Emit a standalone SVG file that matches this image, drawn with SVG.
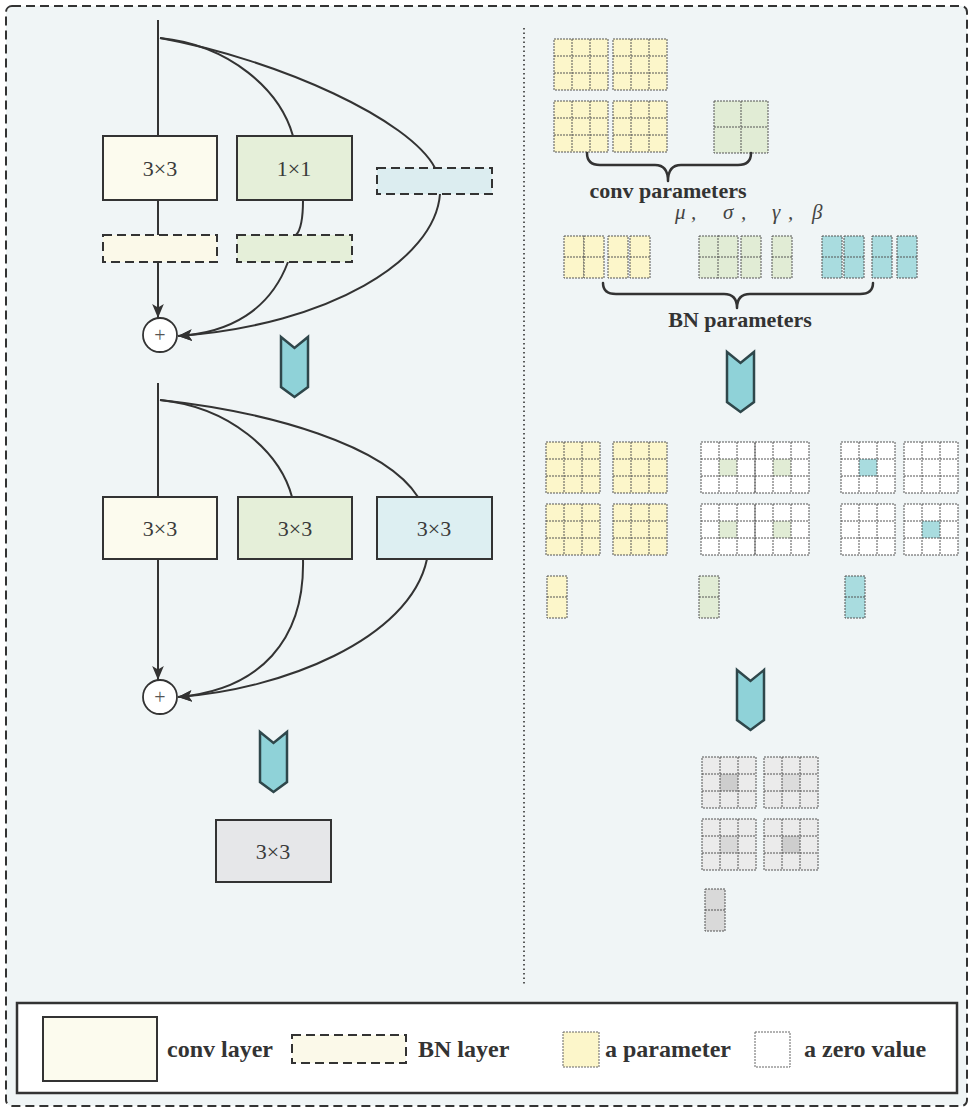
<svg xmlns="http://www.w3.org/2000/svg" xmlns:xlink="http://www.w3.org/1999/xlink" width="975" height="1115" viewBox="0 0 975 1115">
<style>
.box{stroke:#333;stroke-width:2}
.bn{stroke:#333;stroke-width:2;stroke-dasharray:9,5}
.lbl{font-family:"Liberation Serif","Times New Roman",serif;font-size:22px;fill:#3a3a3a;text-anchor:middle}
.btxt{font-family:"Liberation Serif","Times New Roman",serif;font-size:22px;font-weight:bold;fill:#333;text-anchor:middle}
.legt{font-family:"Liberation Serif","Times New Roman",serif;font-size:24px;font-weight:bold;fill:#333}
.greek{font-family:"Liberation Serif","Times New Roman",serif;font-size:21px;font-style:italic;fill:#444}
.wire{fill:none;stroke:#333;stroke-width:2}
.brace{fill:none;stroke:#333;stroke-width:2.5;stroke-linecap:round;stroke-linejoin:round}
.chev{fill:#8fd2d8;stroke:#2f474b;stroke-width:2.5;stroke-linejoin:miter}
.cellline{fill:none}
</style>
<defs>
<marker id="ah" viewBox="0 0 12 10" refX="12" refY="5" markerWidth="14" markerHeight="12" markerUnits="userSpaceOnUse" orient="auto">
<path d="M0,0 L12,5 L0,10 L3,5 z" fill="#333"/>
</marker>
<g id="g3" stroke="#555" stroke-width="1" stroke-dasharray="2,1">
<rect width="54" height="51"/>
<path class="cellline" d="M18,0V51M36,0V51M0,17H54M0,34H54"/>
</g>
<g id="g2" stroke="#555" stroke-width="1" stroke-dasharray="2,1">
<rect width="54" height="52"/>
<path class="cellline" d="M27,0V52M0,26H54"/>
</g>
<g id="col" stroke="#555" stroke-width="1" stroke-dasharray="2,1">
<rect width="20" height="42"/>
<path class="cellline" d="M0,21H20"/>
</g>
<path id="chevron" d="M0,0 L13.5,11 L27,0 L27,50 L13.5,60 L0,50 Z"/>
</defs>

<rect x="6" y="6" width="961" height="1100" rx="6" fill="#f0f5f6" stroke="#333" stroke-width="2" stroke-dasharray="9,5"/>
<line x1="524" y1="28" x2="524" y2="986" stroke="#333" stroke-width="1.6" stroke-dasharray="1.5,3"/>

<g id="connectors">
<path class="wire" d="M158,20 V136"/>
<path class="wire" d="M160,38 C230,45 280,90 293,136"/>
<path class="wire" d="M160,38 C280,60 410,120 435,168"/>
<path class="wire" d="M158,200 V235"/>
<path class="wire" d="M303,200 C303,220 301,230 296,235"/>
<path class="wire" d="M158,262 V318" marker-end="url(#ah)"/>
<path class="wire" d="M288,262 C270,310 230,333 178,336" marker-end="url(#ah)"/>
<path class="wire" d="M440,194 C435,260 330,325 178,336" marker-end="url(#ah)"/>

<path class="wire" d="M158,383 V497"/>
<path class="wire" d="M160,400 C230,407 280,452 292,497"/>
<path class="wire" d="M160,400 C270,412 385,445 418,497"/>
<path class="wire" d="M158,559 V680" marker-end="url(#ah)"/>
<path class="wire" d="M303,559 C305,640 260,690 178,697" marker-end="url(#ah)"/>
<path class="wire" d="M427,559 C410,640 280,690 178,697" marker-end="url(#ah)"/>
</g>

<g id="conv3x3_a">
<rect class="box" x="103" y="136" width="114" height="64" fill="#fcfbee"/>
<text class="lbl" x="160" y="176">3×3</text>
</g>
<g id="conv1x1_a">
<rect class="box" x="237" y="136" width="115" height="64" fill="#e5efd9"/>
<text class="lbl" x="294" y="176">1×1</text>
</g>
<g id="bn_id_a"><rect class="bn" x="377" y="168" width="115" height="26" fill="#dcedf0"/></g>
<g id="bn3x3_a"><rect class="bn" x="103" y="235" width="114" height="27" fill="#fbf9e9"/></g>
<g id="bn1x1_a"><rect class="bn" x="237" y="235" width="115" height="27" fill="#e5efd9"/></g>
<g id="add_a">
<circle cx="160" cy="335" r="17" fill="#fff" stroke="#333" stroke-width="1.8"/>
<text x="160" y="342" font-family="Liberation Serif, serif" font-size="20" fill="#555" text-anchor="middle">+</text>
</g>

<g id="conv3x3_b">
<rect class="box" x="103" y="497" width="114" height="62" fill="#fcfbee"/>
<text class="lbl" x="160" y="536">3×3</text>
</g>
<g id="conv3x3_c">
<rect class="box" x="238" y="497" width="114" height="62" fill="#e5efd9"/>
<text class="lbl" x="295" y="536">3×3</text>
</g>
<g id="conv3x3_d">
<rect class="box" x="377" y="497" width="115" height="62" fill="#ddeff2"/>
<text class="lbl" x="434" y="536">3×3</text>
</g>
<g id="add_b">
<circle cx="160" cy="697" r="17" fill="#fff" stroke="#333" stroke-width="1.8"/>
<text x="160" y="704" font-family="Liberation Serif, serif" font-size="20" fill="#555" text-anchor="middle">+</text>
</g>
<g id="conv3x3_final">
<rect class="box" x="216" y="820" width="115" height="62" fill="#e6e7e9"/>
<text class="lbl" x="273" y="859">3×3</text>
</g>

<g id="chevrons">
<use xlink:href="#chevron" class="chev" x="281" y="337"/>
<use xlink:href="#chevron" class="chev" x="260" y="732"/>
<use xlink:href="#chevron" class="chev" x="727" y="352"/>
<use xlink:href="#chevron" class="chev" x="737" y="670"/>
</g>

<g id="conv_params">
<use xlink:href="#g3" x="554" y="39" fill="#fcf6ca"/>
<use xlink:href="#g3" x="613" y="39" fill="#fcf6ca"/>
<use xlink:href="#g3" x="554" y="101" fill="#fcf6ca"/>
<use xlink:href="#g3" x="613" y="101" fill="#fcf6ca"/>
<use xlink:href="#g2" x="714" y="101" fill="#e1ecd5"/>
<path class="brace" d="M587,153 Q587,165 600,165 L655,165 Q668,165 668,181 Q668,165 681,165 L738,165 Q751,165 751,153"/>
<text class="btxt" x="668" y="198">conv parameters</text>
</g>

<g id="bn_params">
<text class="greek"><tspan x="675" y="219">μ</tspan><tspan x="691" y="219">,</tspan><tspan x="723" y="219">σ</tspan><tspan x="741" y="219">,</tspan><tspan x="772" y="219">γ</tspan><tspan x="788" y="219">,</tspan><tspan x="812" y="219">β</tspan></text>
<use xlink:href="#col" x="564" y="236" fill="#fcf6ca"/>
<use xlink:href="#col" x="584" y="236" fill="#fcf6ca"/>
<use xlink:href="#col" x="608" y="236" fill="#fcf6ca"/>
<use xlink:href="#col" x="630" y="236" fill="#fcf6ca"/>
<use xlink:href="#col" x="699" y="236" fill="#e1ecd5"/>
<use xlink:href="#col" x="718" y="236" fill="#e1ecd5"/>
<use xlink:href="#col" x="741" y="236" fill="#e1ecd5"/>
<use xlink:href="#col" x="772" y="236" fill="#e1ecd5"/>
<use xlink:href="#col" x="822" y="236" fill="#a9dcdf"/>
<use xlink:href="#col" x="844" y="236" fill="#a9dcdf"/>
<use xlink:href="#col" x="872" y="236" fill="#a9dcdf"/>
<use xlink:href="#col" x="897" y="236" fill="#a9dcdf"/>
<path class="brace" d="M603,283 Q603,294 616,294 L724,294 Q737,294 737,308 Q737,294 750,294 L860,294 Q873,294 873,283"/>
<text class="btxt" x="740" y="327">BN parameters</text>
</g>

<g id="fused_params">
<use xlink:href="#g3" x="546" y="442" fill="#fcf6ca"/>
<use xlink:href="#g3" x="613" y="442" fill="#fcf6ca"/>
<use xlink:href="#g3" x="546" y="504" fill="#fcf6ca"/>
<use xlink:href="#g3" x="613" y="504" fill="#fcf6ca"/>

<rect x="701" y="442" width="108" height="51" fill="#fff"/>
<rect x="701" y="504" width="108" height="51" fill="#fff"/>
<rect x="719" y="459" width="18" height="17" fill="#e1ecd5"/>
<rect x="773" y="459" width="18" height="17" fill="#e1ecd5"/>
<rect x="719" y="521" width="18" height="17" fill="#e1ecd5"/>
<rect x="773" y="521" width="18" height="17" fill="#e1ecd5"/>
<use xlink:href="#g3" x="701" y="442" fill="none"/>
<use xlink:href="#g3" x="755" y="442" fill="none"/>
<use xlink:href="#g3" x="701" y="504" fill="none"/>
<use xlink:href="#g3" x="755" y="504" fill="none"/>

<rect x="841" y="442" width="54" height="51" fill="#fff"/>
<rect x="904" y="442" width="54" height="51" fill="#fff"/>
<rect x="841" y="504" width="54" height="51" fill="#fff"/>
<rect x="904" y="504" width="54" height="51" fill="#fff"/>
<rect x="859" y="459" width="18" height="17" fill="#a9dcdf"/>
<rect x="922" y="521" width="18" height="17" fill="#a9dcdf"/>
<use xlink:href="#g3" x="841" y="442" fill="none"/>
<use xlink:href="#g3" x="904" y="442" fill="none"/>
<use xlink:href="#g3" x="841" y="504" fill="none"/>
<use xlink:href="#g3" x="904" y="504" fill="none"/>

<use xlink:href="#col" x="547" y="576" fill="#fcf6ca"/>
<use xlink:href="#col" x="699" y="576" fill="#e1ecd5"/>
<use xlink:href="#col" x="845" y="576" fill="#a9dcdf"/>
</g>

<g id="final_params">
<rect x="702" y="757" width="54" height="51" fill="#ebebeb"/>
<rect x="764" y="757" width="54" height="51" fill="#ebebeb"/>
<rect x="702" y="819" width="54" height="51" fill="#ebebeb"/>
<rect x="764" y="819" width="54" height="51" fill="#ebebeb"/>
<rect x="720" y="774" width="18" height="17" fill="#cdcdcd"/>
<rect x="782" y="774" width="18" height="17" fill="#dcdcdc"/>
<rect x="720" y="836" width="18" height="17" fill="#d8d8d8"/>
<rect x="782" y="836" width="18" height="17" fill="#cdcdcd"/>
<use xlink:href="#g3" x="702" y="757" fill="none"/>
<use xlink:href="#g3" x="764" y="757" fill="none"/>
<use xlink:href="#g3" x="702" y="819" fill="none"/>
<use xlink:href="#g3" x="764" y="819" fill="none"/>
<use xlink:href="#col" x="705" y="889" fill="#d9d9d9"/>
</g>

<g id="legend">
<rect x="17" y="1003" width="940" height="90" fill="#fff" stroke="#333" stroke-width="2.5"/>
<rect class="box" x="43" y="1017" width="114" height="64" fill="#fcfbee"/>
<text class="legt" x="167" y="1057">conv layer</text>
<rect class="bn" x="292" y="1035" width="114" height="28" fill="#fbf9e9"/>
<text class="legt" x="418" y="1057">BN layer</text>
<rect x="563" y="1032" width="36" height="35" fill="#fcf6ca" stroke="#666" stroke-width="1" stroke-dasharray="2,1"/>
<text class="legt" x="605" y="1057">a parameter</text>
<rect x="755" y="1032" width="35" height="35" fill="#fff" stroke="#666" stroke-width="1" stroke-dasharray="2,1"/>
<text class="legt" x="804" y="1057">a zero value</text>
</g>
</svg>
